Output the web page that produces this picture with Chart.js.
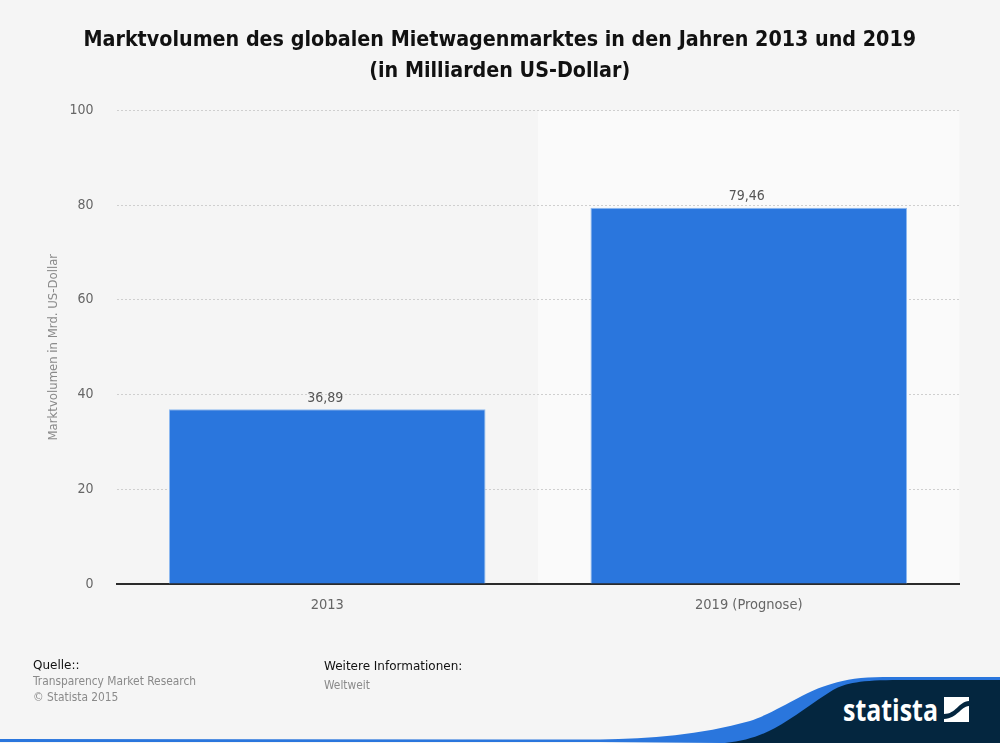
<!DOCTYPE html>
<html lang="de">
<head>
<meta charset="utf-8">
<script src="https://cdn.jsdelivr.net/npm/chart.js@4"></script>
<style>
html,body{margin:0;padding:0;background:#f5f5f5;width:1000px;height:743px;overflow:hidden}
#wrap{position:relative;width:1000px;height:743px}
canvas{position:absolute;left:0;top:0}
.t{position:absolute;white-space:nowrap;font:11.85px "DejaVu Sans Condensed","DejaVu Sans",sans-serif;color:#8a8a8a;line-height:16px}
.h{color:#111;font-family:"DejaVu Sans","DejaVu Sans Condensed",sans-serif;font-size:12px}
svg{position:absolute;left:0;top:0}
</style>
</head>
<body>
<div id="wrap">
<svg width="1000" height="743" viewBox="0 0 1000 743">
<path d="M0 739 L600 739.5 C650 738.5 700 735 750 721 C772 713 782 706 800 697 C818 688 840 677 883 677 L1000 677 L1000 743 L720 743 L600 742 L0 742 Z" fill="#2a76dd"/>
<path d="M725 743 C745 741 760 736 775 728 C792 719 815 701 833 690 C846 683 860 680 900 680 L1000 680 L1000 743 Z" fill="#04263f"/>
<text x="843" y="721" fill="#fff" font-family="'Open Sans','DejaVu Sans',sans-serif" font-weight="700" font-size="31" textLength="95" lengthAdjust="spacingAndGlyphs">statista</text>
<rect x="944" y="697" width="25" height="25" fill="#fff"/>
<path d="M944 714 C956 714 958 702 969 701 L969 706 C960 707 958 718 944 719 Z" fill="#04263f"/>
</svg>
<canvas id="c" width="1000" height="743"></canvas>
<div class="t h" style="left:33px;top:657px">Quelle::</div>
<div class="t" style="left:33px;top:673px">Transparency Market Research</div>
<div class="t" style="left:33px;top:689px">© Statista 2015</div>
<div class="t h" style="left:324px;top:658px">Weitere Informationen:</div>
<div class="t" style="left:324px;top:677px">Weltweit</div>
</div>
<script>
const categories = ["2013", "2019 (Prognose)"];
const marketVolume = [36.89, 79.46];
const valueLabels = ["36,89", "79,46"];
const titleLines = ["Marktvolumen des globalen Mietwagenmarktes in den Jahren 2013 und 2019", "(in Milliarden US-Dollar)"];
const yAxisTitle = "Marktvolumen in Mrd. US-Dollar";
const yTicks = [0, 20, 40, 60, 80, 100];
const FONT = '"DejaVu Sans Condensed","DejaVu Sans",sans-serif';

const bandPlugin = {
  id: 'band',
  beforeDraw(chart) {
    const {ctx, chartArea: a, scales: {x}} = chart;
    const left = (x.getPixelForValue(0) + x.getPixelForValue(1)) / 2;
    ctx.save();
    ctx.fillStyle = '#fafafa';
    ctx.fillRect(left, a.top, a.right - left, a.bottom - a.top);
    ctx.restore();
  }
};
const labelPlugin = {
  id: 'valueLabels',
  afterDatasetsDraw(chart) {
    const {ctx} = chart;
    ctx.save();
    ctx.font = '14px ' + FONT;
    ctx.fillStyle = '#555';
    ctx.textAlign = 'center';
    ctx.textBaseline = 'alphabetic';
    chart.getDatasetMeta(0).data.forEach((bar, i) => {
      ctx.fillText(valueLabels[i], bar.x - 2, bar.y - 7.5);
    });
    ctx.restore();
  }
};

new Chart(document.getElementById('c'), {
  type: 'bar',
  data: {
    labels: categories,
    datasets: [{
      data: marketVolume,
      backgroundColor: '#2a76dd',
      borderColor: '#8fbaf0',
      borderWidth: 1,
      barPercentage: 0.751,
      categoryPercentage: 1
    }]
  },
  plugins: [bandPlugin, labelPlugin],
  options: {
    responsive: false,
    animation: false,
    devicePixelRatio: 1,
    layout: {padding: {left: 40, right: 40.5, top: 24, bottom: 110}},
    plugins: {
      legend: {display: false},
      tooltip: {enabled: false},
      title: {
        display: true,
        text: titleLines,
        color: '#111',
        font: {family: FONT, size: 21.3, weight: 'bold', lineHeight: 1.5},
        padding: {top: 0, bottom: 22.5}
      }
    },
    scales: {
      x: {
        afterFit(s) { s.height = 49; },
        grid: {display: false, drawTicks: false},
        border: {color: '#2b2b2b', width: 2},
        ticks: {color: '#666', font: {family: FONT, size: 14.5}, padding: 13}
      },
      y: {
        min: 0,
        max: 100,
        afterFit(s) { s.width = 76.5; },
        afterBuildTicks(s) { s.ticks = yTicks.map(v => ({value: v})); },
        grid: {color: '#cfcfcf', drawTicks: false, lineWidth: 1},
        border: {display: false, dash: [2, 2]},
        ticks: {color: '#666', font: {family: FONT, size: 14}, padding: 23},
        title: {
          display: true,
          text: yAxisTitle,
          color: '#8a8a8a',
          font: {family: FONT, size: 13},
          padding: 6
        }
      }
    }
  }
});
</script>
</body>
</html>
